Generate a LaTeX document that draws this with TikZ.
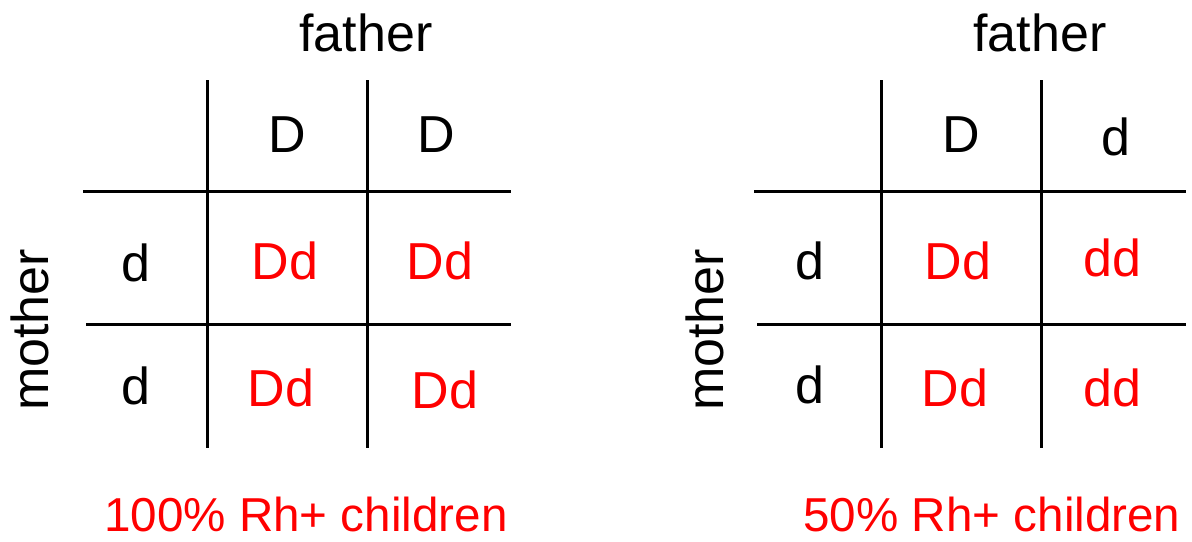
\documentclass[tikz,border=0pt]{standalone}
\usepackage{fontspec}
\setmainfont{Liberation Sans}
\tikzset{
  allele/.style={inner sep=0pt, text=black},
  child/.style={inner sep=0pt, text=red},
  result/.style={inner sep=0pt, text=red, font=\fontsize{23.8}{28}\selectfont},
  grid/.style={line width=1.5pt}
}
\begin{document}
\begin{tikzpicture}[x=0.5pt, y=-0.5pt, font=\fontsize{26}{30}\selectfont]
    \useasboundingbox (0,0) rectangle (1192,541);

    % left square: D D x d d
    \draw[grid] (207,80) -- (207,448);
    \draw[grid] (367,80) -- (367,448);
    \draw[grid] (83,191) -- (511,191);
    \draw[grid] (86,324) -- (511,324);

    \node[allele] (fatherA) at (366,33) {father};
    \node[allele, rotate=90] (motherA) at (30,330) {mother};
    \node[allele] (fA1) at (287,135) {D};
    \node[allele] (fA2) at (436,135) {D};
    \node[allele] (mA1) at (136,263) {d};
    \node[allele] (mA2) at (136,386) {d};
    \node[child] (cA11) at (285,261) {Dd};
    \node[child] (cA12) at (440,261) {Dd};
    \node[child] (cA21) at (281,388) {Dd};
    \node[child] (cA22) at (445,390) {Dd};
    \node[result] (resA) at (306,514) {100\% Rh+ children};

    % right square: D d x d d
    \draw[grid] (881,80) -- (881,448);
    \draw[grid] (1041,80) -- (1041,448);
    \draw[grid] (754,191) -- (1186,191);
    \draw[grid] (757,324) -- (1186,324);

    \node[allele] (fatherB) at (1040,33) {father};
    \node[allele, rotate=90] (motherB) at (705,330) {mother};
    \node[allele] (fB1) at (961,135) {D};
    \node[allele] (fB2) at (1116,137) {d};
    \node[allele] (mB1) at (810,261) {d};
    \node[allele] (mB2) at (810,385) {d};
    \node[child] (cB11) at (958,261) {Dd};
    \node[child] (cB12) at (1112,258) {dd};
    \node[child] (cB21) at (955,388) {Dd};
    \node[child] (cB22) at (1112,388) {dd};
    \node[result] (resB) at (992,514) {50\% Rh+ children};

  \end{tikzpicture}
\end{document}
